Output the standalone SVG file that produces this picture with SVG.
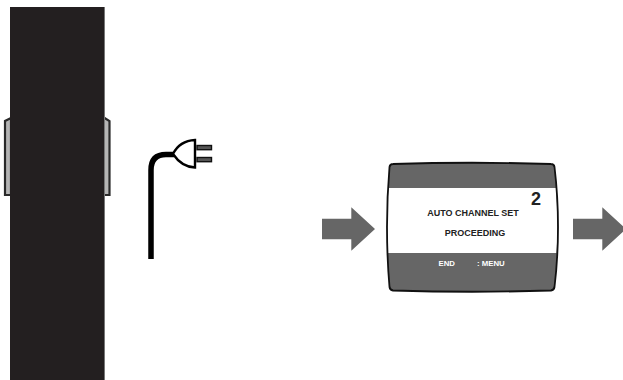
<svg xmlns="http://www.w3.org/2000/svg" width="623" height="380" viewBox="0 0 623 380">
<style>
text{font-family:"Liberation Sans",Arial,sans-serif;font-weight:bold}
.arrow{fill:#666}
.hinge{fill:#b5b5b5;stroke:#2a2a2a;stroke-width:2.200}
</style>
<defs><polygon id="arr" class="arrow" points="0,-10.300 29.300,-10.300 29.300,-21.800 53,0 29.300,21.800 29.300,10.300 0,10.300"/></defs>
<rect width="623" height="380" fill="#fff"/>
<g id="device">
<path class="hinge" d="M11,118 L5,121 V195 H11Z"/>
<path class="hinge" d="M103,117 L109.500,121 V195 H103Z"/>
<rect x="10" y="7" width="94.500" height="373" fill="#231f20"/>
<rect x="104" y="7" width="1" height="373" fill="#777"/>
</g>
<g id="plug">
<path d="M151,259 V170 Q151,154.500 166,154.500 H174" fill="none" stroke="#000" stroke-width="5.500"/>
<path d="M195,140 V167.500 C184,167 177,160 173,154 C177,146 184,140.500 195,140Z" fill="#fff" stroke="#000" stroke-width="2.400"/>
<rect x="197" y="145.500" width="14.500" height="4.200" fill="#555" stroke="#111" stroke-width="1.400"/>
<rect x="197" y="157.500" width="14.500" height="4.200" fill="#555" stroke="#111" stroke-width="1.400"/>
</g>
<g id="screen">
<path d="M393,164 Q472,161.500 551,164 Q554,164 554.500,167 Q558,196 558,227 Q558,258 554.500,287 Q554,290 551,290.500 Q472,293 393,290.500 Q390,290 389.500,287 Q387,258 387,227 Q387,196 389.500,167 Q390,164 393,164Z" fill="#666"/>
<path d="M388.500,188 H556 Q557.500,208 557.500,227 Q557.500,240 556.500,253 H388 Q387,240 387,227 Q387,208 388.500,188Z" fill="#fff"/>
<path d="M393,164 Q472,161.500 551,164 Q554,164 554.500,167 Q558,196 558,227 Q558,258 554.500,287 Q554,290 551,290.500 Q472,293 393,290.500 Q390,290 389.500,287 Q387,258 387,227 Q387,196 389.500,167 Q390,164 393,164Z" fill="none" stroke="#111" stroke-width="1.800"/>
<text x="473" y="216" font-size="9" text-anchor="middle" fill="#222">AUTO CHANNEL SET</text>
<text x="475" y="236" font-size="9" text-anchor="middle" fill="#222">PROCEEDING</text>
<text x="536" y="205" font-size="18" text-anchor="middle" fill="#222">2</text>
<text x="438.500" y="266" font-size="7.800" fill="#fff">END</text>
<text x="477" y="266" font-size="7.800" fill="#fff">: MENU</text>
</g>
<g id="connectors">
<use href="#arr" x="322" y="229"/>
<use href="#arr" x="573" y="229"/>
</g>
</svg>
